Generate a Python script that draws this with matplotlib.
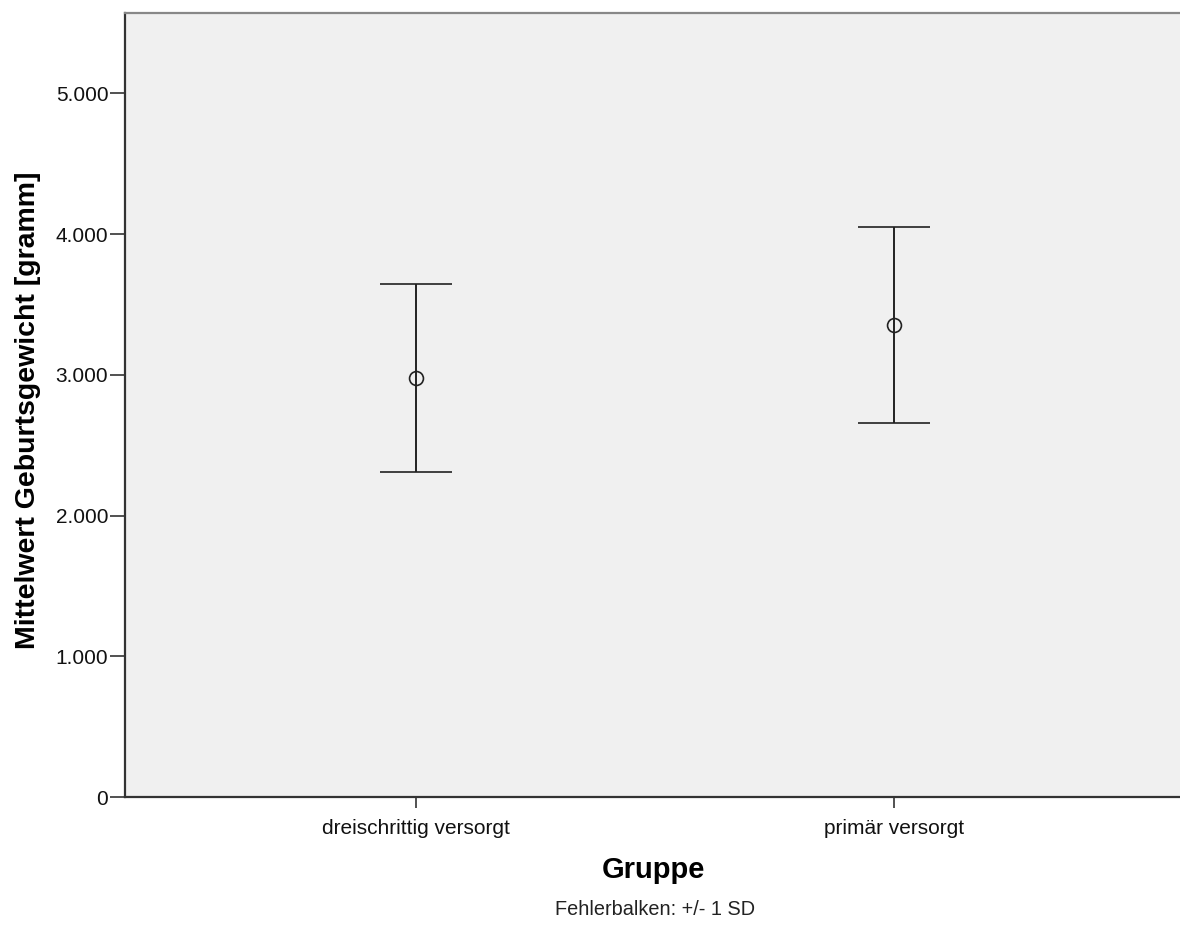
import numpy as np
import matplotlib.pyplot as plt
from matplotlib.ticker import FuncFormatter

plt.rcParams['font.family'] = ['Liberation Sans', 'DejaVu Sans']

# group means and standard deviations of birth weight (gram)
gruppen = ['dreischrittig versorgt', 'primär versorgt']
mittelwert = [2979, 3355]
sd = [668, 698]

fig = plt.figure(figsize=(11.8, 9.38), dpi=100)
ax = fig.add_axes([0.1059, 0.1503, 0.8941, 0.8357])
ax.set_facecolor('#f0f0f0')

x = np.arange(len(gruppen))
ax.errorbar(x, mittelwert, yerr=sd, fmt='o', mfc='none', mec='#222222',
            ms=10, mew=1.2, ecolor='#222222', elinewidth=1.4,
            capsize=26, capthick=1.4)

ax.set_xlim(-0.61, 1.60)
ax.set_ylim(0, 5570)
ax.set_yticks([0, 1000, 2000, 3000, 4000, 5000])
ax.yaxis.set_major_formatter(FuncFormatter(
    lambda v, p: '0' if v == 0 else '{:,.0f}'.format(v).replace(',', '.')))
ax.set_xticks(x)
ax.set_xticklabels(gruppen)

ax.tick_params(axis='both', direction='out', width=1.2,
               color='#333333', labelsize=15, labelcolor='#111111')
ax.tick_params(axis='y', length=11, pad=1)
ax.tick_params(axis='x', length=8, pad=8)

for s in ['left', 'bottom']:
    ax.spines[s].set_color('#333333')
    ax.spines[s].set_linewidth(1.6)
ax.spines['top'].set_color('#888888')
ax.spines['top'].set_linewidth(1.6)
ax.spines['right'].set_visible(False)

ax.set_ylabel('Mittelwert Geburtsgewicht [gramm]', fontsize=20.5,
              fontweight='bold', va='center')
ax.yaxis.set_label_coords(-0.092, 0.494)
ax.set_xlabel('Gruppe', fontsize=21, fontweight='bold', va='center')
ax.xaxis.set_label_coords(0.501, -0.093)

fig.text(0.555, 0.030, 'Fehlerbalken: +/- 1 SD', ha='center', va='center',
         fontsize=14.3, color='#222222')

fig.savefig('out.png', dpi=100)
